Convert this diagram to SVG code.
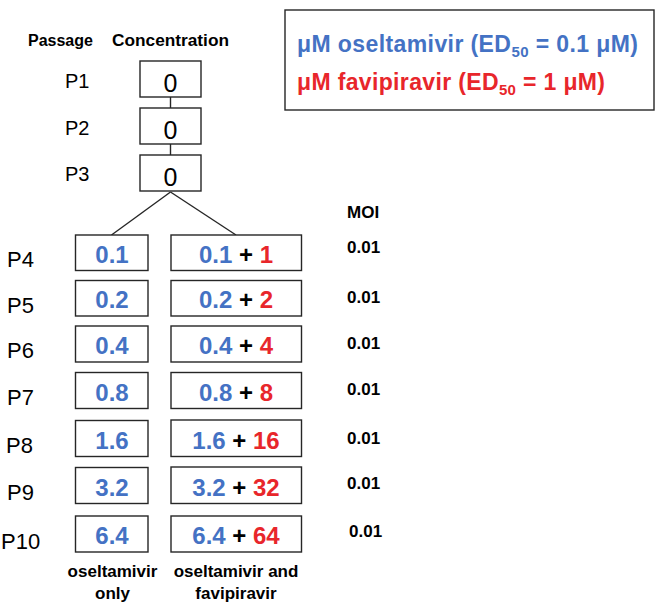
<svg xmlns="http://www.w3.org/2000/svg" width="660" height="608" viewBox="0 0 660 608">
<style>
text{font-family:"Liberation Sans",Arial,sans-serif;}
.box{fill:#fff;stroke:#262626;stroke-width:1.4;}
.hdr{font-size:16px;font-weight:bold;fill:#000;}
.pl{font-size:20px;fill:#000;}
.pb{font-size:22px;fill:#000;}
.zero{font-size:25px;fill:#000;text-anchor:middle;}
.val{font-size:24px;font-weight:bold;text-anchor:middle;fill:#000;}
.b{fill:#4472C4;}
.r{fill:#E8262B;}
.moi{font-size:17px;font-weight:bold;fill:#000;}
.lab{font-size:17px;font-weight:bold;fill:#000;text-anchor:middle;}
.leg{font-size:23px;font-weight:bold;}
.conn{stroke:#262626;stroke-width:1.4;fill:none;}
</style>
<g id="headers">
<text class="hdr" x="28" y="46">Passage</text>
<text class="hdr" x="112" y="46" textLength="117" lengthAdjust="spacingAndGlyphs">Concentration</text>
<text class="moi" x="347" y="218" font-size="16">MOI</text>
</g>
<g id="legend">
<rect x="285" y="10" width="369" height="100" fill="#fff" stroke="#262626" stroke-width="1.4"/>
<text class="leg b" x="297" y="52" textLength="341">μM oseltamivir (ED<tspan font-size="15" dy="5">50</tspan><tspan dy="-5"> = 0.1 μM)</tspan></text>
<text class="leg r" x="297" y="90" textLength="308">μM favipiravir (ED<tspan font-size="15" dy="5">50</tspan><tspan dy="-5"> = 1 μM)</tspan></text>
</g>
<g id="connectors">
<line class="conn" x1="170.5" y1="97" x2="170.5" y2="108"/>
<line class="conn" x1="170.5" y1="144" x2="170.5" y2="155"/>
<line class="conn" x1="170.5" y1="192" x2="111.5" y2="235"/>
<line class="conn" x1="170.5" y1="192" x2="236" y2="235"/>
</g>
<g id="p1"><text class="pl" x="65" y="88">P1</text><rect class="box" x="140" y="61" width="61" height="36"/><text class="zero" x="170.5" y="92">0</text></g>
<g id="p2"><text class="pl" x="65" y="135">P2</text><rect class="box" x="140" y="108" width="61" height="36"/><text class="zero" x="170.5" y="139">0</text></g>
<g id="p3"><text class="pl" x="65" y="181">P3</text><rect class="box" x="140" y="155" width="61" height="36"/><text class="zero" x="170.5" y="186">0</text></g>

<g id="p4"><text class="pb" x="7" y="267">P4</text>
<rect class="box" x="75.5" y="235" width="72.5" height="35.5"/><text class="val b" x="112" y="262.5">0.1</text>
<rect class="box" x="171" y="235" width="130.5" height="35.5"/><text class="val" x="236" y="262.5"><tspan class="b">0.1</tspan> + <tspan class="r">1</tspan></text>
<text class="moi" x="347" y="253">0.01</text></g>

<g id="p5"><text class="pb" x="7" y="312.5">P5</text>
<rect class="box" x="75.5" y="280.5" width="72.5" height="35.5"/><text class="val b" x="112" y="308">0.2</text>
<rect class="box" x="171" y="280.5" width="130.5" height="35.5"/><text class="val" x="236" y="308"><tspan class="b">0.2</tspan> + <tspan class="r">2</tspan></text>
<text class="moi" x="347" y="303">0.01</text></g>

<g id="p6"><text class="pb" x="7" y="358">P6</text>
<rect class="box" x="75.5" y="326" width="72.5" height="36"/><text class="val b" x="112" y="354">0.4</text>
<rect class="box" x="171" y="326" width="130.5" height="36"/><text class="val" x="236" y="354"><tspan class="b">0.4</tspan> + <tspan class="r">4</tspan></text>
<text class="moi" x="347" y="348.5">0.01</text></g>

<g id="p7"><text class="pb" x="7" y="405">P7</text>
<rect class="box" x="75.5" y="372.5" width="72.5" height="36"/><text class="val b" x="112" y="401">0.8</text>
<rect class="box" x="171" y="372.5" width="130.5" height="36"/><text class="val" x="236" y="401"><tspan class="b">0.8</tspan> + <tspan class="r">8</tspan></text>
<text class="moi" x="347" y="394.5">0.01</text></g>

<g id="p8"><text class="pb" x="6" y="453">P8</text>
<rect class="box" x="75.5" y="420.5" width="72.5" height="36"/><text class="val b" x="112" y="449">1.6</text>
<rect class="box" x="171" y="420" width="130.5" height="36.5"/><text class="val" x="236" y="449"><tspan class="b">1.6</tspan> + <tspan class="r">16</tspan></text>
<text class="moi" x="347" y="443.5">0.01</text></g>

<g id="p9"><text class="pb" x="7" y="500">P9</text>
<rect class="box" x="75.5" y="467.5" width="72.5" height="36"/><text class="val b" x="112" y="496">3.2</text>
<rect class="box" x="171" y="467" width="130.5" height="36.5"/><text class="val" x="236" y="496"><tspan class="b">3.2</tspan> + <tspan class="r">32</tspan></text>
<text class="moi" x="347" y="488.5">0.01</text></g>

<g id="p10"><text class="pb" x="1" y="548.5">P10</text>
<rect class="box" x="75.5" y="516" width="72.5" height="36"/><text class="val b" x="112" y="544">6.4</text>
<rect class="box" x="171" y="516" width="130.5" height="36"/><text class="val" x="236" y="544"><tspan class="b">6.4</tspan> + <tspan class="r">64</tspan></text>
<text class="moi" x="349" y="537">0.01</text></g>

<g id="labels">
<text class="lab" x="112.5" y="577">oseltamivir</text>
<text class="lab" x="112.5" y="599">only</text>
<text class="lab" x="236" y="577">oseltamivir and</text>
<text class="lab" x="236" y="599">favipiravir</text>
</g>
</svg>
